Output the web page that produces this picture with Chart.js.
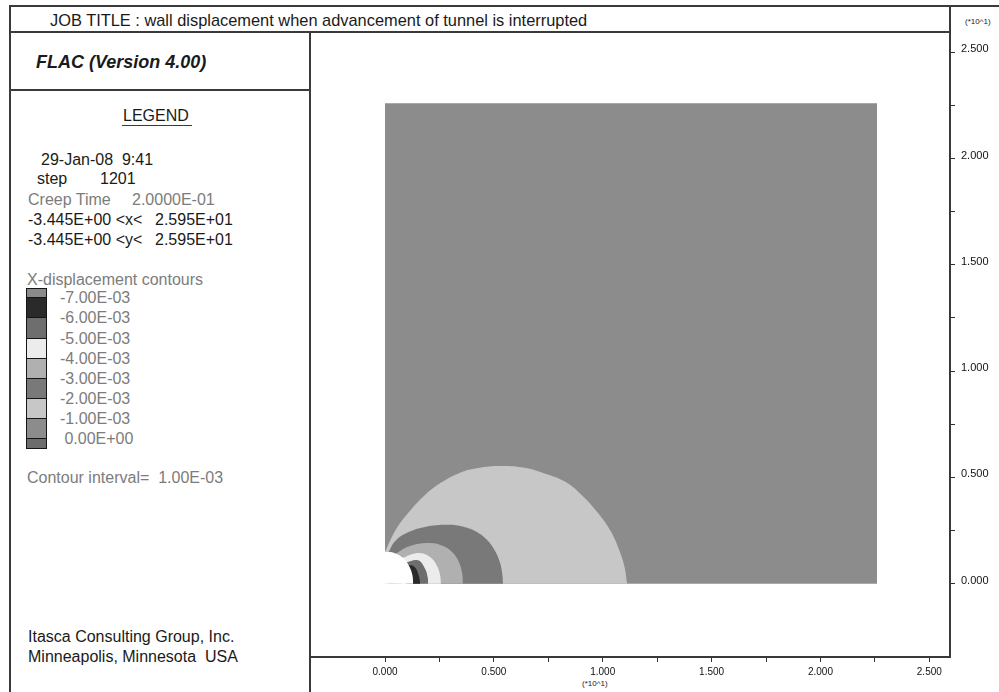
<!DOCTYPE html>
<html lang="en">
  <head>
    <meta charset="UTF-8" />
    <title>FLAC X-displacement contours</title>
    <script src="https://cdn.jsdelivr.net/npm/chart.js"></script>
    <style>
      body {
        margin: 0;
        width: 999px;
        height: 692px;
        position: relative;
        overflow: hidden;
        background: #ffffff;
        font-family: "Liberation Sans", Arial, sans-serif;
        color: #1a1a1a;
      }
      .ln { position: absolute; background: #3a3a3a; }
      .t { position: absolute; white-space: pre; font-size: 16px; line-height: 18px; }
      .grey { color: #7c7c7c; }
      .small { font-size: 8px; line-height: 10px; }
      #plot { position: absolute; left: 310px; top: 32px; }
      .sw { position: absolute; left: 26px; width: 21px; box-sizing: border-box; border: 1px solid #151515; }
    </style>
  </head>
  <body>
    <!-- frame -->
    <div class="ln" style="left:9px;top:5px;width:990px;height:2px"></div>
    <div class="ln" style="left:9px;top:5px;width:2px;height:687px"></div>
    <div class="ln" style="left:949px;top:5px;width:2px;height:653px"></div>
    <div class="ln" style="left:9px;top:31px;width:942px;height:2px"></div>
    <div class="ln" style="left:309px;top:31px;width:2px;height:661px"></div>
    <div class="ln" style="left:9px;top:89px;width:302px;height:2px"></div>
    <div class="ln" style="left:309px;top:656px;width:642px;height:2px"></div>

    <div class="t" style="left:50px;top:11px;font-size:16.4px">JOB TITLE : wall displacement when advancement of tunnel is interrupted</div>
    <div class="t small" style="left:965px;top:17px">(*10^1)</div>
    <div class="t" style="left:36px;top:51px;font-size:18px;line-height:22px;font-weight:bold;font-style:italic">FLAC (Version 4.00)</div>

    <div class="t" style="left:123px;top:107px">LEGEND</div>
    <div class="ln" style="left:122px;top:125px;width:70px;height:1px"></div>
    <div class="t" style="left:41px;top:151px">29-Jan-08  9:41</div>
    <div class="t" style="left:37px;top:170px">step</div>
    <div class="t" style="left:100px;top:170px">1201</div>
    <div class="t grey" style="left:28px;top:191px">Creep Time</div>
    <div class="t grey" style="left:132px;top:191px">2.0000E-01</div>
    <div class="t" style="left:28px;top:211px">-3.445E+00 &lt;x&lt;</div>
    <div class="t" style="left:155px;top:211px">2.595E+01</div>
    <div class="t" style="left:28px;top:231px">-3.445E+00 &lt;y&lt;</div>
    <div class="t" style="left:155px;top:231px">2.595E+01</div>
    <div class="t grey" style="left:27px;top:271px">X-displacement contours</div>
    <div id="swatches"></div>
    <div class="t grey" style="left:27px;top:469px">Contour interval=  1.00E-03</div>
    <div class="t" style="left:28px;top:628px">Itasca Consulting Group, Inc.</div>
    <div class="t" style="left:28px;top:648px">Minneapolis, Minnesota  USA</div>
    <div class="t small" style="left:582px;top:679px">(*10^1)</div>

    <canvas id="plot" width="689" height="660"></canvas>

    <script>
      // contour levels and band colours (band i lies between level i-1 and level i)
      const contourLevels = ["-7.00E-03", "-6.00E-03", "-5.00E-03", "-4.00E-03",
        "-3.00E-03", "-2.00E-03", "-1.00E-03", " 0.00E+00"];
      const bandColors = ["#8a8a8a", "#2a2a2a", "#6e6e6e", "#ececec", "#b0b0b0",
        "#797979", "#c7c7c7", "#8c8c8c", "#6c6c6c"];
      const swatchEdges = [288, 297, 317, 338, 358, 378, 398, 418, 438, 448];

      // axis ticks, in model units (labels are in *10^1)
      const tickValues = [0, 2.5, 5, 7.5, 10, 12.5, 15, 17.5, 20, 22.5, 25];
      const tickLabels = ["0.000", "", "0.500", "", "1.000", "", "1.500", "", "2.000", "", "2.500"];
      const axisMin = -3.445;
      const axisMax = 25.95;

      // model outline and contour boundaries [x, y]
      const modelEdge = [[0, 22.6], [22.6, 22.6]];
      const contourM1 = [[0, 1.5], [0.5, 2.55], [1.06, 3.33], [1.84, 4.18], [2.62, 4.78], [3.4, 5.2],
        [4.13, 5.42], [5.19, 5.54], [6.4, 5.46], [7.3, 5.2], [8.3, 4.78], [9.1, 4.1], [9.8, 3.3],
        [10.35, 2.5], [10.75, 1.6], [11.0, 0.8], [11.12, 0]];
      const contourM2 = [[0.15, 1.45], [0.46, 2.0], [1.06, 2.42], [1.84, 2.67], [2.89, 2.77], [3.6, 2.68],
        [4.2, 2.45], [4.7, 2.05], [5.05, 1.55], [5.28, 1.0], [5.38, 0.5], [5.42, 0]];
      const contourM3 = [[0.45, 1.4], [1.15, 1.78], [2.07, 1.92], [2.7, 1.76], [3.15, 1.42], [3.42, 0.95],
        [3.55, 0.45], [3.58, 0]];
      const contourM4 = [[0.75, 1.2], [1.52, 1.45], [2.07, 1.26], [2.39, 0.84], [2.53, 0.4], [2.57, 0]];
      const contourM5 = [[0.95, 1.0], [1.52, 1.1], [1.84, 0.7], [1.96, 0.3], [1.98, 0]];
      const contourM6 = [[1.0, 0.9], [1.35, 0.8], [1.55, 0.4], [1.62, 0]];
      const tunnel = [[0, 1.5], [0.45, 1.44], [0.85, 1.2], [1.1, 0.85], [1.25, 0.45], [1.3, 0]];

      // legend swatches
      const swHost = document.getElementById("swatches");
      bandColors.forEach((c, i) => {
        const d = document.createElement("div");
        d.className = "sw";
        d.style.top = swatchEdges[i] + "px";
        d.style.height = (swatchEdges[i + 1] - swatchEdges[i] + 1) + "px";
        d.style.background = c;
        swHost.appendChild(d);
      });
      contourLevels.forEach((lab, i) => {
        const d = document.createElement("div");
        d.className = "t grey";
        d.style.left = "60px";
        d.style.top = (swatchEdges[i + 1] - 8) + "px";
        d.textContent = lab;
        swHost.appendChild(d);
      });

      const toPts = arr => arr.map(p => ({x: p[0], y: p[1]}));
      const region = (pts, color, order) => ({
        data: toPts(pts),
        backgroundColor: color,
        borderColor: "rgba(0,0,0,0)",
        borderWidth: 0,
        pointRadius: 0,
        fill: "origin",
        tension: 0.4,
        order: order,
      });

      const axisCommon = {
        type: "linear",
        min: axisMin,
        max: axisMax,
        grid: {display: true, drawOnChartArea: false, drawTicks: true, tickLength: 5, color: "#333"},
        border: {display: false},
        afterBuildTicks: scale => { scale.ticks = tickValues.map(v => ({value: v})); },
      };

      new Chart(document.getElementById("plot"), {
        type: "line",
        data: {
          datasets: [
            region(modelEdge, bandColors[7], 8),
            region(contourM1, bandColors[6], 7),
            region(contourM2, bandColors[5], 6),
            region(contourM3, bandColors[4], 5),
            region(contourM4, bandColors[3], 4),
            region(contourM5, bandColors[2], 3),
            region(contourM6, bandColors[1], 2),
            region(tunnel, "#ffffff", 1),
          ],
        },
        options: {
          responsive: false,
          animation: false,
          layout: {padding: 0},
          plugins: {legend: {display: false}, tooltip: {enabled: false}},
          scales: {
            x: {
              ...axisCommon,
              position: "bottom",
              afterFit: s => { s.height = 35; s.paddingLeft = 0; s.paddingRight = 0; },
              ticks: {
                autoSkip: false, maxRotation: 0, padding: 4,
                font: {family: "Liberation Sans", size: 10}, color: "#111",
                callback: (v, i) => tickLabels[i],
              },
            },
            y: {
              ...axisCommon,
              position: "right",
              afterFit: s => { s.width = 49; s.paddingTop = 0; s.paddingBottom = 0; },
              ticks: {
                autoSkip: false, padding: 6, labelOffset: -3,
                font: {family: "Liberation Sans", size: 11}, color: "#111",
                callback: (v, i) => tickLabels[i],
              },
            },
          },
        },
      });
    </script>
  </body>
</html>
